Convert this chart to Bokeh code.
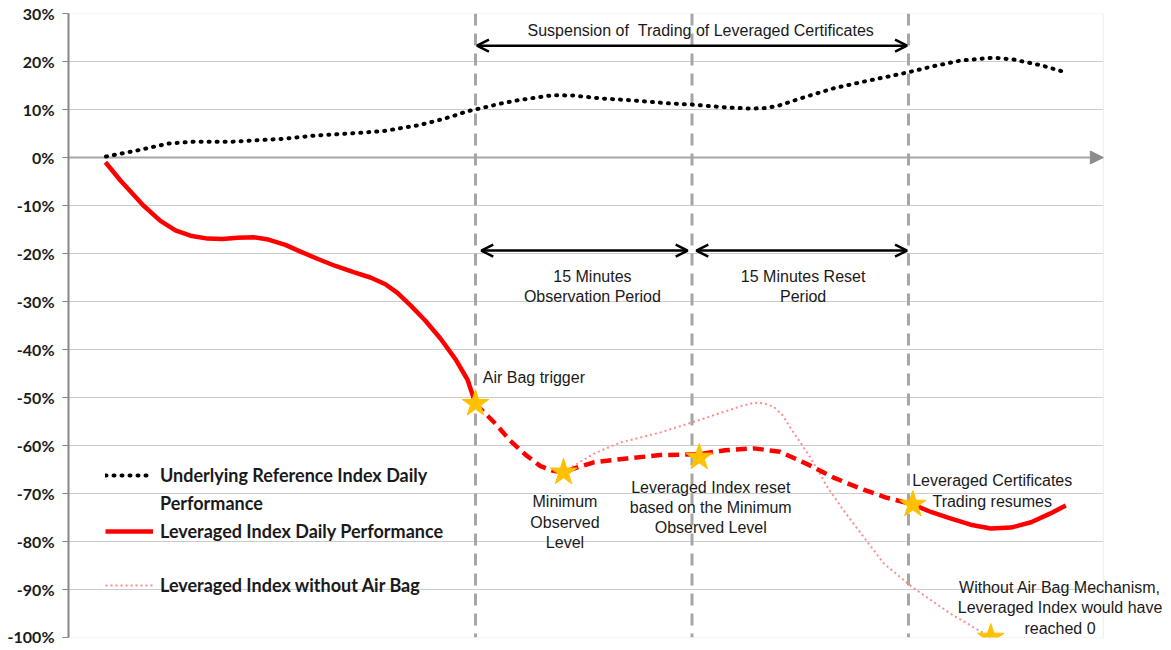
from bokeh.plotting import figure
from bokeh.models import (Span, Label, Arrow, OpenHead, NormalHead, Legend, BoxAnnotation,
                          LegendItem, FixedTicker, PrintfTickFormatter, Range1d)
from bokeh.embed import file_html
from bokeh.resources import INLINE

# ---------------- data (minutes relative to Air Bag trigger, % performance) -------------
underlying_t = [-25.6, -23.4, -21.3, -19.5, -16.8, -13.3, -11.0, -8.7, -6.4, -5.2, -4.0,
                -2.9, -1.7, -0.6, 0.7, 1.7, 2.9, 4.0, 5.4, 6.8, 8.7, 10.9, 13.3, 15.1,
                17.5, 19.1, 20.1, 21.0, 22.5, 24.8, 27.2, 29.9, 31.7, 33.6, 35.9, 37.3,
                39.2, 40.7]
underlying_v = [0.2, 1.5, 2.9, 3.3, 3.3, 3.9, 4.6, 5.0, 5.5, 6.1, 6.7,
                7.5, 8.5, 9.6, 10.5, 11.2, 11.9, 12.4, 13.0, 12.9, 12.3, 11.9, 11.3, 11.0,
                10.4, 10.2, 10.3, 10.8, 12.3, 14.4, 16.0, 17.7, 19.0, 20.2, 20.8, 20.4,
                19.2, 17.9]

lev_pre_t = [-25.64, -24.60, -23.01, -21.83, -20.79, -19.75, -18.57, -17.53, -16.49, -15.38,
             -14.35, -13.17, -12.13, -10.88, -9.70, -8.45, -7.28, -6.24, -5.41, -4.50,
             -3.47, -2.43, -1.39, -0.55, 0.0]
lev_pre_v = [-1.0, -4.8, -10.0, -13.2, -15.2, -16.3, -16.9, -17.0, -16.7, -16.6,
             -17.1, -18.2, -19.6, -21.2, -22.6, -23.9, -25.0, -26.4, -28.2, -30.8,
             -34.0, -37.7, -42.0, -46.3, -51.3]

lev_susp_t = [0.0, 1.4, 2.4, 3.5, 4.5, 5.3, 6.1, 7.0, 8.2, 10.5, 12.8, 15.5, 17.3, 19.3,
              21.1, 23.2, 24.9, 26.7, 28.4, 30.3]
lev_susp_v = [-51.3, -55.5, -59.0, -62.0, -64.3, -65.2, -65.6, -64.6, -63.5, -62.7, -62.0,
              -61.8, -61.0, -60.6, -61.3, -64.2, -66.8, -69.0, -70.8, -72.3]

lev_post_t = [30.3, 31.6, 32.9, 34.3, 35.7, 37.1, 38.5, 39.8, 40.9]
lev_post_v = [-72.3, -73.9, -75.2, -76.5, -77.3, -77.1, -76.0, -74.2, -72.5]

noair_t = [6.1, 6.6, 8.2, 10.0, 12.8, 15.4, 17.5, 18.4, 19.3, 20.0, 20.7, 21.3, 21.8, 23.2,
           24.4, 25.5, 26.7, 28.3, 30.3, 32.9, 35.7]
noair_v = [-65.6, -64.6, -61.7, -59.4, -57.3, -54.8, -52.7, -51.8, -51.1, -51.2, -52.0,
           -53.8, -56.2, -62.5, -68.75, -73.5, -78.3, -84.6, -89.6, -95.0, -100.0]

star_t = [0.0, 6.1, 15.5, 30.3, 35.7]
star_v = [-51.3, -65.6, -62.5, -72.3, -100.0]

phase_bounds = [0, 15, 30]          # trigger, reset, trading resumes
y_ticks = list(range(-100, 31, 10))
x_lo, x_end_axis, x_hi = -28.2, 43.5, 47.6
y_lo, y_hi = -100, 30

legend_labels = ["Underlying Reference Index Daily", "Performance",
                 "Leveraged Index Daily Performance", " ", "Leveraged Index without Air Bag"]

notes = [
    ("Suspension of \u00a0Trading of Leveraged Certificates", 15.6, 26.4, "center"),
    ("15 Minutes\nObservation Period", 8.1, -26.9, "center"),
    ("15 Minutes Reset\nPeriod", 22.7, -26.9, "center"),
    ("Air Bag trigger", 0.5, -45.8, "left"),
    ("Minimum\nObserved\nLevel", 6.2, -76.0, "center"),
    ("Leveraged Index reset\nbased on the Minimum\nObserved Level", 16.3, -72.9, "center"),
    ("Leveraged Certificates\nTrading resumes", 35.8, -69.5, "center"),
    ("Without Air Bag Mechanism,\nLeveraged Index would have\nreached 0", 40.5, -93.8, "center"),
]
arrow_specs = [(0.1, 29.9, 23.3), (0.4, 14.7, -19.4), (15.3, 29.9, -19.4)]

# ---------------- figure ----------------
p = figure(width=1165, height=645, output_backend="svg", toolbar_location=None,
           x_axis_type=None, x_range=Range1d(x_lo, x_hi), y_range=Range1d(y_lo, y_hi),
           min_border_left=68, min_border_right=3, min_border_top=13, min_border_bottom=8)
p.outline_line_color = None
p.background_fill_color = "white"

ax = p.yaxis[0]
ax.ticker = FixedTicker(ticks=y_ticks)
ax.formatter = PrintfTickFormatter(format="%d%%")
ax.axis_line_color = "#868686"
ax.axis_line_width = 2
ax.major_tick_line_color = "#868686"
ax.major_tick_out = 6
ax.major_tick_in = 0
ax.minor_tick_line_color = None
ax.major_label_text_font = "Lato"
ax.major_label_text_font_style = "bold"
ax.major_label_text_font_size = "16px"
ax.major_label_text_color = "#1a1a1a"
ax.major_label_standoff = 8

g = p.ygrid[0]
g.ticker = FixedTicker(ticks=y_ticks)
g.grid_line_color = "#999999"
g.grid_line_dash = "1 1"
g.grid_line_width = 1

# white mask right of the plot area (room for the overhanging note)
p.add_layout(BoxAnnotation(left=x_end_axis, fill_color="white", fill_alpha=1,
                           line_alpha=0, level="underlay"))
# plot-area border
p.add_layout(BoxAnnotation(left=x_lo, right=x_end_axis, bottom=y_lo, top=y_hi,
                           fill_alpha=0, line_color="#BFBFBF", line_width=1,
                           level="underlay"))

for b in phase_bounds:
    p.add_layout(Span(location=b, dimension="height", line_color="#A6A6A6",
                      line_dash="12 8", line_width=3, level="underlay"))

# zero axis with arrow
p.add_layout(Arrow(x_start=x_lo, y_start=0, x_end=x_end_axis, y_end=0, line_color="#A6A6A6",
                   line_width=2, end=NormalHead(size=13, fill_color="#8C8C8C",
                                                line_color="#8C8C8C"), level="underlay"))

r_under = p.line(underlying_t, underlying_v, line_color="black", line_width=4,
                 line_dash="1 7", line_cap="round")
r_noair = p.line(noair_t, noair_v, line_color="#FF8C8C", line_width=2, line_dash="2 3")
r_pre = p.line(lev_pre_t, lev_pre_v, line_color="#FF0000", line_width=4.5, line_join="round")
p.line(lev_susp_t, lev_susp_v, line_color="#FF0000", line_width=4.5, line_dash="11 6")
p.line(lev_post_t, lev_post_v, line_color="#FF0000", line_width=4.5, line_join="round")
p.scatter(star_t, star_v, marker="star", size=28, fill_color="#FFC000",
          line_color="#FFC000")
r_blank = p.line([], [], line_alpha=0)

for (txt, x, y, al) in notes:
    p.add_layout(Label(x=x, y=y, text=txt, text_font="Liberation Sans", text_font_size="16px",
                       text_align=al, text_baseline="middle", text_color="#1a1a1a",
                       text_line_height=1.2))

for (xa, xb, ya) in arrow_specs:
    p.add_layout(Arrow(x_start=xa, y_start=ya, x_end=xb, y_end=ya, line_color="black",
                       line_width=2.5,
                       start=OpenHead(size=12, line_width=2.5, line_color="black"),
                       end=OpenHead(size=12, line_width=2.5, line_color="black")))

items = [LegendItem(label=legend_labels[0], renderers=[r_under]),
         LegendItem(label=legend_labels[1], renderers=[r_blank]),
         LegendItem(label=legend_labels[2], renderers=[r_pre]),
         LegendItem(label=legend_labels[3], renderers=[r_blank]),
         LegendItem(label=legend_labels[4], renderers=[r_noair])]
legend = Legend(items=items, location=(37, 41), orientation="vertical",
                border_line_alpha=0, background_fill_alpha=0, padding=0, margin=0,
                spacing=6, glyph_width=48, glyph_height=20, label_height=20,
                label_standoff=7, label_text_font="Lato", label_text_font_style="bold",
                label_text_font_size="18px", label_text_color="#1a1a1a")
p.add_layout(legend)

open("out.html", "w").write(file_html(p, INLINE))
